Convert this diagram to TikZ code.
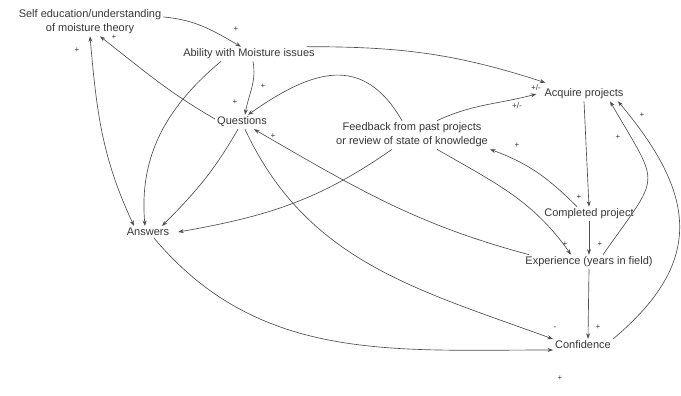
\documentclass[tikz,border=0pt]{standalone}
\usepackage{fontspec}
\setmainfont{Liberation Sans}
\usetikzlibrary{positioning,arrows.meta}
\definecolor{inkgray}{HTML}{363636}
\definecolor{linegray}{HTML}{4E4E4E}
\tikzset{
    varnode/.style={
        align=center,
        inner sep=2pt,
        text=inkgray,
        font=\fontsize{11}{14}\selectfont
    },
    signnode/.style={
        inner sep=0pt,
        text=inkgray,
        font=\fontsize{8}{8}\selectfont
    },
    link/.style={
        draw=linegray,
        line width=0.65pt,
        -{Stealth[length=5.5pt,width=4pt]}
    },
    twoway/.style={
        link,
        {Stealth[length=5.5pt,width=4pt]}-{Stealth[length=5.5pt,width=4pt]}
    }
}

\begin{document}
\begin{tikzpicture}
        \useasboundingbox (0,0) rectangle (681pt,-396pt);
        \node[varnode] (Q) at (242pt,-122pt) {Questions};
        \node[varnode, on grid, above left = 100pt and 152pt of Q] (S) {Self education/understanding\\of moisture theory};
        \node[varnode, on grid, above right = 68pt and 7pt of Q] (A) {Ability with Moisture issues};
        \node[varnode, on grid, below left = 110pt and 94pt of Q] (W) {Answers};
        \node[varnode, on grid, below right = 13pt and 170pt of Q] (F) {Feedback from past projects\\or review of state of knowledge};
        \node[varnode, on grid, above right = 41pt and 172pt of F] (P) {Acquire projects};
        \node[varnode, on grid, below right = 120pt and 5pt of P] (C) {Completed project};
        \node[varnode, on grid, below = 48pt of C] (E) {Experience (years in field)};
        \node[varnode, on grid, below left = 83pt and 6pt of E] (N) {Confidence};

        \draw[link] ([yshift=5pt]S.east) to[out=-5,in=150] ([xshift=-8pt]A.north);
        \draw[link] ([xshift=4pt]A.south) to[out=-80,in=80] ([xshift=3pt]Q.north);
        \draw[link] ([yshift=3pt]Q.west) to[out=150,in=-38] ([xshift=10pt]S.south);
        \draw[twoway] ([xshift=-14pt]W.north) to[out=115,in=-85] (S.south);
        \draw[link] ([xshift=-28pt]A.south) to[out=-140,in=95] ([xshift=-3pt]W.north);
        \draw[link] ([xshift=-4pt]Q.south) to[out=-120,in=45] ([xshift=14pt]W.north);
        \draw[link] ([xshift=-20pt]F.south) to[out=-145,in=10] ([xshift=7pt]W.east);
        \draw[link] ([xshift=-10pt]F.north) to[out=120,in=35,looseness=1.3] ([xshift=6pt]Q.north);
        \draw[link] ([xshift=-10pt]A.north east) to[out=0,in=162] ([xshift=3pt,yshift=4pt]P.north west);
        \draw[link] ([xshift=25pt]F.north) to[out=25,in=195] ([xshift=-6pt]P.west);
        \draw[link] (P.south) -- (C.north);
        \draw[link] (C.south) -- (E.north);
        \draw[link] (E.south) -- ([xshift=5pt]N.north);
        \draw[link] ([xshift=-12pt]C.north) to[out=135,in=-20] (F.south east);
        \draw[link] ([xshift=25pt]F.south) to[out=-30,in=125] ([xshift=-18pt]E.north);
        \draw[link] ([xshift=-60pt]E.north) to[out=165,in=-30] ([xshift=12pt]Q.south);
        \draw[link] ([xshift=3pt]Q.south) to[out=-65,in=160] ([yshift=6pt]N.west);
        \draw[link] ([xshift=6pt]W.south) to[out=-50,in=180] ([yshift=-5pt]N.west);
        \draw[link] ([xshift=14pt]E.north) to[out=55,in=-60,looseness=1.7] ([xshift=26pt]P.south);
        \draw[link] ([yshift=6pt]N.east) to[out=40,in=-50,looseness=1.3] ([xshift=34pt]P.south);

        \node[signnode] (s1) at (236pt,-29pt) {+};
        \node[signnode] (s2) at (114pt,-37pt) {+};
        \node[signnode] (s3) at (77pt,-50pt) {+};
        \node[signnode] (s4) at (263pt,-86pt) {+};
        \node[signnode] (s5) at (235pt,-102pt) {+};
        \node[signnode] (s6) at (273pt,-136pt) {+};
        \node[signnode] (s7) at (536pt,-88pt) {+/-};
        \node[signnode] (s8) at (517pt,-106pt) {+/-};
        \node[signnode] (s9) at (517pt,-145pt) {+};
        \node[signnode] (s10) at (642pt,-115pt) {+};
        \node[signnode] (s11) at (618pt,-137pt) {+};
        \node[signnode] (s12) at (579pt,-197pt) {+};
        \node[signnode] (s13) at (565pt,-244pt) {+};
        \node[signnode] (s14) at (600pt,-244pt) {+};
        \node[signnode] (s15) at (555pt,-328pt) {-};
        \node[signnode] (s16) at (598pt,-327pt) {+};
        \node[signnode] (s17) at (560pt,-378pt) {+};
\end{tikzpicture}
\end{document}
